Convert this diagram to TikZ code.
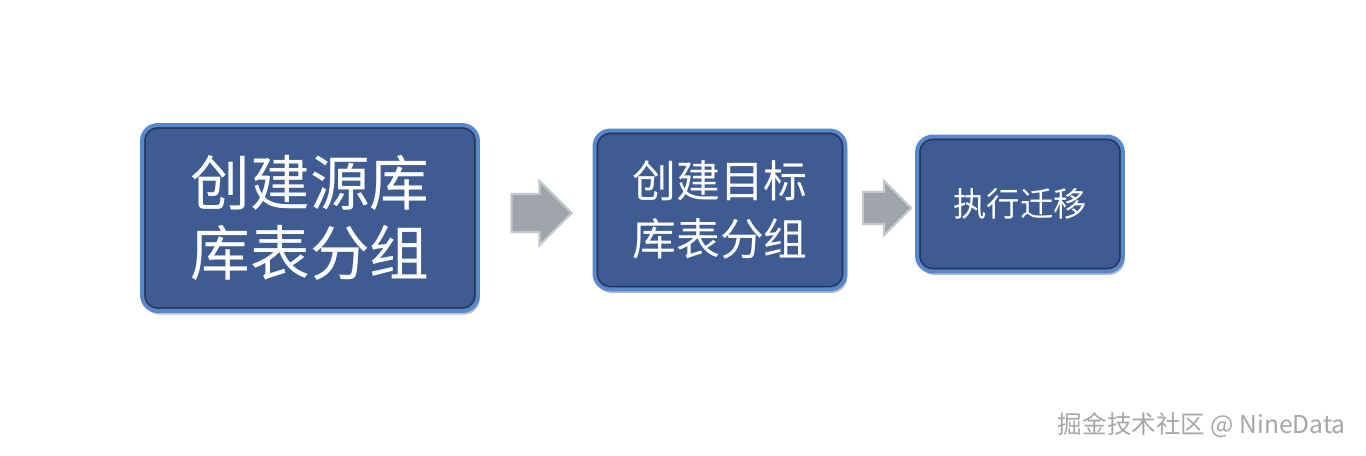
\documentclass[tikz,border=0pt]{standalone}
\usepackage{fontspec}
\setmainfont{Noto Sans CJK SC}
\usepackage{xcolor}
\usepackage{tikz}
\usetikzlibrary{shapes.arrows, positioning, shadows}

\definecolor{stepfill}{RGB}{62,92,145}
\definecolor{steprim}{RGB}{88,136,204}
\definecolor{stepedge}{RGB}{36,56,98}
\definecolor{arrowfill}{RGB}{160,164,172}
\definecolor{arrowedge}{RGB}{196,200,206}

\begin{document}
\begin{tikzpicture}[
    x=0.02cm, y=0.02cm,
    stepbox/.style={draw=steprim, line width=2.2pt, rounded corners=9pt, fill=stepfill, text=white, align=center,
        inner sep=0pt, drop shadow={shadow xshift=1pt, shadow yshift=-2pt, opacity=0.35, fill=stepedge}},
    stepedge/.style={draw=stepedge, line width=0.8pt, rounded corners=7pt},
    flowarrow/.style={single arrow, draw=arrowedge, line width=1.2pt, fill=arrowfill, minimum width=0pt}
]
\useasboundingbox (0,0) rectangle (1366,456);

% Process steps
\node[stepbox, text width=320*0.02cm, minimum width=336*0.02cm, minimum height=186*0.02cm, font=\fontsize{34}{40}\selectfont] (srcgroup) at (310,238) {创建源库\\库表分组};
\node[stepbox, text width=240*0.02cm, minimum width=251*0.02cm, minimum height=159*0.02cm, font=\fontsize{25}{33}\selectfont] (tgtgroup) at (720,246) {创建目标\\库表分组};
\node[stepbox, text width=200*0.02cm, minimum width=206*0.02cm, minimum height=135*0.02cm, font=\fontsize{19}{24}\selectfont] (migrate) at (1020,252) {执行迁移};

% Inner dark edges
\draw[stepedge] ([shift={(5,-5)}]srcgroup.north west) rectangle ([shift={(-5,5)}]srcgroup.south east);
\draw[stepedge] ([shift={(5,-5)}]tgtgroup.north west) rectangle ([shift={(-5,5)}]tgtgroup.south east);
\draw[stepedge] ([shift={(5,-5)}]migrate.north west) rectangle ([shift={(-5,5)}]migrate.south east);

% Block arrows between steps
\node[flowarrow, inner sep=18*0.02cm, single arrow head extend=13*0.02cm, minimum height=60*0.02cm] (arrowA) at (532,243) {};
\node[flowarrow, inner sep=15*0.02cm, single arrow head extend=11*0.02cm, minimum height=48*0.02cm] (arrowB) at (879,248) {};

% Watermark
\node[text=gray!70, font=\fontsize{14}{16}\selectfont, anchor=east] (mark) at (1352,31) {掘金技术社区 @ NineData};

\end{tikzpicture}
\end{document}
